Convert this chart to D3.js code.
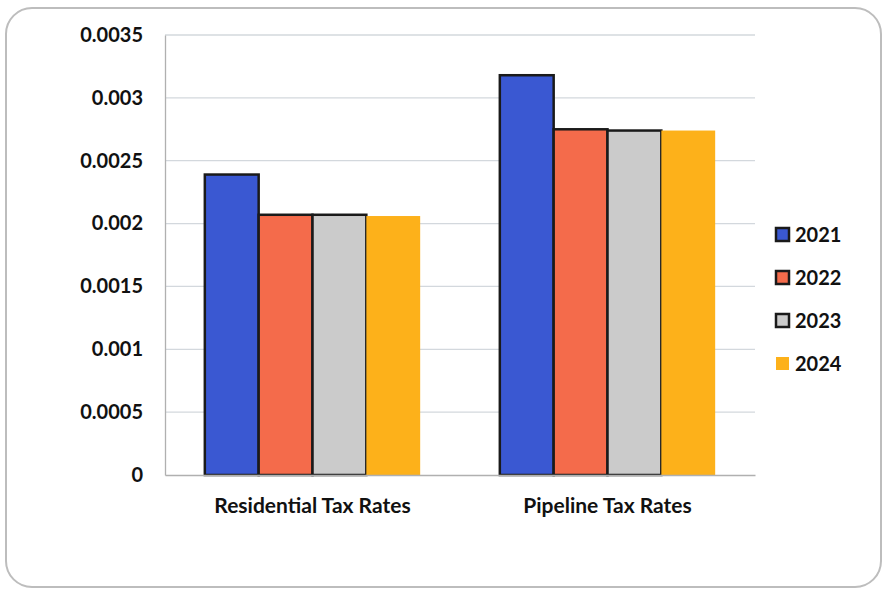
<!DOCTYPE html>
<html>
<head>
<meta charset="utf-8">
<script src="https://cdn.jsdelivr.net/npm/d3@7"></script>
<style>
  body { margin: 0; background: #fff; }
  svg { display: block; }
</style>
</head>
<body>
<div id="chart"></div>
<script>
// chart values
var categories = ["Residential Tax Rates", "Pipeline Tax Rates"];
var years = ["2021", "2022", "2023", "2024"];
var rates2021 = [0.00239, 0.00318];
var rates2022 = [0.00207, 0.00275];
var rates2023 = [0.00207, 0.00274];
var rates2024 = [0.00206, 0.00274];
var yTicks = [0, 0.0005, 0.001, 0.0015, 0.002, 0.0025, 0.003, 0.0035];
var tickLabels = ["0", "0.0005", "0.001", "0.0015", "0.002", "0.0025", "0.003", "0.0035"];

var seriesValues = [rates2021, rates2022, rates2023, rates2024];
var colors = ["#3a58d2", "#f46b4b", "#cbcbcb", "#fdb11a"];
var outlined = [true, true, true, false];

const width = 883, height = 593;
const margin = {left: 165, right: 128, top: 35, bottom: 118};

var svg = d3.select("#chart")
  .append("svg")
  .attr("width", width)
  .attr("height", height);

// rounded frame
svg.append("rect")
  .attr("x", 6).attr("y", 8)
  .attr("width", 875).attr("height", 579)
  .attr("rx", 26)
  .attr("fill", "#fff")
  .attr("stroke", "#bdbdbd")
  .attr("stroke-width", 2);

var x0 = d3.scaleBand()
  .domain(categories)
  .range([margin.left, width - margin.right])
  .paddingInner(0.27)
  .paddingOuter(0.135);

var x1 = d3.scaleBand()
  .domain(years)
  .range([0, x0.bandwidth()]);

var y = d3.scaleLinear()
  .domain([0, 0.0035])
  .range([height - margin.bottom, margin.top]);

// gridlines
svg.append("g")
  .selectAll("line")
  .data(yTicks.slice(1))
  .enter()
  .append("line")
  .attr("x1", margin.left)
  .attr("x2", width - margin.right)
  .attr("y1", d => y(d))
  .attr("y2", d => y(d))
  .attr("stroke", "#d3d8dd")
  .attr("stroke-width", 1.3);

// y axis labels
var yAxis = d3.axisLeft(y)
  .tickValues(yTicks)
  .tickSize(0)
  .tickPadding(22)
  .tickFormat((d, i) => tickLabels[i]);

svg.append("g")
  .attr("transform", "translate(" + margin.left + ",0)")
  .call(yAxis)
  .call(g => g.select(".domain").attr("stroke", "#b0b0b0").attr("stroke-width", 1.3))
  .selectAll("text")
  .style("font-family", "Lato")
  .style("font-weight", "bold")
  .style("font-size", "20px")
  .attr("fill", "#111");

// bars
var groups = svg.selectAll(".grp")
  .data(categories)
  .enter()
  .append("g")
  .attr("transform", d => "translate(" + x0(d) + ",0)");

groups.selectAll("rect")
  .data((d, ci) => years.map((yr, si) => ({year: yr, si: si, val: seriesValues[si][ci]})))
  .enter()
  .append("rect")
  .attr("x", d => x1(d.year))
  .attr("y", d => y(d.val))
  .attr("width", x1.bandwidth())
  .attr("height", d => y(0) - y(d.val))
  .attr("fill", d => colors[d.si])
  .attr("stroke", d => outlined[d.si] ? "#1a1a1a" : "none")
  .attr("stroke-width", 2.5);

// x axis
var xAxis = d3.axisBottom(x0).tickSize(0).tickPadding(23);
svg.append("g")
  .attr("transform", "translate(0," + y(0) + ")")
  .call(xAxis)
  .call(g => g.select(".domain").attr("stroke", "#b0b0b0").attr("stroke-width", 1.3))
  .selectAll("text")
  .style("font-family", "Lato")
  .style("font-weight", "bold")
  .style("font-size", "21px")
  .attr("fill", "#111");

// legend
var legend = svg.append("g")
  .attr("transform", "translate(776,228)");

var item = legend.selectAll("g")
  .data(years)
  .enter()
  .append("g")
  .attr("transform", (d, i) => "translate(0," + (i * 43) + ")");

item.append("rect")
  .attr("width", 13).attr("height", 13)
  .attr("fill", (d, i) => colors[i])
  .attr("stroke", (d, i) => outlined[i] ? "#1a1a1a" : "none")
  .attr("stroke-width", 2.5);

item.append("text")
  .attr("x", 19)
  .attr("y", 14)
  .text(d => d)
  .style("font-family", "Lato")
  .style("font-weight", "bold")
  .style("font-size", "20px")
  .attr("fill", "#111");
</script>
</body>
</html>
